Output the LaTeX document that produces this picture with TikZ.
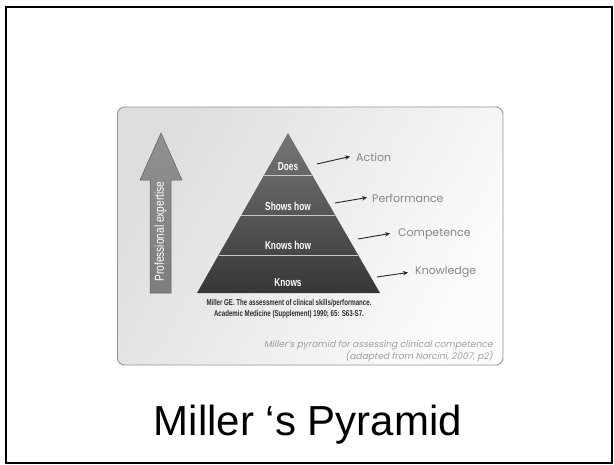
\documentclass[tikz,border=0pt]{standalone}
\usepackage{fontspec}
\setmainfont{Liberation Sans}
\newfontfamily\condfont[FakeStretch=0.72]{Liberation Sans}
\newfontfamily\pecond[FakeStretch=0.78]{Liberation Sans}
\newfontfamily\geofont{Poppins}
\newfontfamily\capfont[FakeSlant=0.2]{Poppins}
\usetikzlibrary{arrows.meta,calc}
\definecolor{boxborder}{RGB}{150,150,150}
\definecolor{boxleft}{RGB}{222,222,222}
\definecolor{boxright}{RGB}{252,252,252}
\definecolor{pyrtop}{RGB}{118,118,118}
\definecolor{pyrbot}{RGB}{55,55,55}
\definecolor{sepline}{RGB}{200,200,200}
\definecolor{lblgray}{RGB}{135,135,135}
\definecolor{capgray}{RGB}{160,160,160}
\definecolor{citegray}{RGB}{45,45,45}
\definecolor{arrowfill}{RGB}{125,125,125}
\definecolor{arrowdark}{RGB}{95,95,95}
\tikzset{
  tierlbl/.style={text=white,inner sep=0pt,font=\condfont\bfseries\fontsize{11.5}{12}\selectfont},
  rightlbl/.style={text=lblgray,inner sep=0pt,anchor=west,font=\geofont\fontsize{11}{12}\selectfont},
  pointer/.style={draw=black!85,line width=0.9pt,-{Stealth[length=5pt,width=4.5pt]}},
  citelbl/.style={text=citegray,inner sep=0pt,align=center,font=\condfont\bfseries\fontsize{8.5}{11}\selectfont},
  caplbl/.style={text=capgray,inner sep=0pt,align=right,anchor=north east,font=\capfont\fontsize{9.1}{10.5}\selectfont},
}
\begin{document}
\begin{tikzpicture}[x=1pt,y=-1pt]
\useasboundingbox (0,0) rectangle (614,464);
\fill[white] (0,0) rectangle (614,464);
% outer frame
\draw[line width=2pt,black] (5.5,7) rectangle (612,463);
% inner panel
\shade[left color=boxleft,right color=boxright,shading angle=60,rounded corners=7pt]
  (117.5,107) rectangle (503,365);
\draw[boxborder,line width=0.9pt,rounded corners=7pt] (117.5,107) rectangle (503,365);
% up arrow
\shade[top color=arrowfill!85,bottom color=arrowfill,draw=arrowdark,line width=0.5pt]
  (161,133) -- (182,180) -- (171,180) -- (171,293) -- (150,293) -- (150,180) -- (140,180) -- cycle;
\node[rotate=90,text=white,inner sep=0pt,font=\pecond\fontsize{13}{14}\selectfont] (pe) at (160.5,231.5) {Professional expertise};
% pyramid
\coordinate (apex) at (288,133);
\coordinate (bl) at (197,293);
\coordinate (br) at (380,293);
\shade[top color=pyrtop,bottom color=pyrbot] (apex) -- (br) -- (bl) -- cycle;
\foreach \t in {0.2625,0.5125,0.7625}{
  \draw[sepline,line width=0.9pt] ($(apex)!\t!(bl)$) -- ($(apex)!\t!(br)$);
}
\node[tierlbl] (does) at (288,166.5) {Does};
\node[tierlbl] (shows) at (288,206.5) {Shows how};
\node[tierlbl] (knowshow) at (288,245) {Knows how};
\node[tierlbl] (knows) at (288,282.5) {Knows};
% right labels
\node[rightlbl] (act) at (356,157) {Action};
\node[rightlbl] (perf) at (372,198) {Performance};
\node[rightlbl] (comp) at (398,234) {Competence};
\node[rightlbl] (know) at (415,272) {Knowledge};
\coordinate (s1) at (317,164);
\coordinate (s2) at (335,203);
\coordinate (s3) at (358,239);
\coordinate (s4) at (377,277);
\draw[pointer] (s1) -- ([xshift=-6pt,yshift=0.5pt]act.west);
\draw[pointer] (s2) -- ([xshift=-5pt,yshift=0.5pt]perf.west);
\draw[pointer] (s3) -- ([xshift=-8pt,yshift=0.5pt]comp.west);
\draw[pointer] (s4) -- ([xshift=-7pt,yshift=-0.5pt]know.west);
% citation
\node[citelbl] (cite) at (289,308.5) {Miller GE. The assessment of clinical skills/performance.\\Academic Medicine (Supplement) 1990; 65: S63-S7.};
% caption
\node[caplbl] (cap) at (493,340) {Miller’s pyramid for assessing clinical competence\\(adapted from Norcini, 2007, p2)};
% title
\node[anchor=base,inner sep=0pt,font=\fontsize{42}{48}\selectfont] (title) at (308,435) {Miller ‘s Pyramid};
\end{tikzpicture}
\end{document}
